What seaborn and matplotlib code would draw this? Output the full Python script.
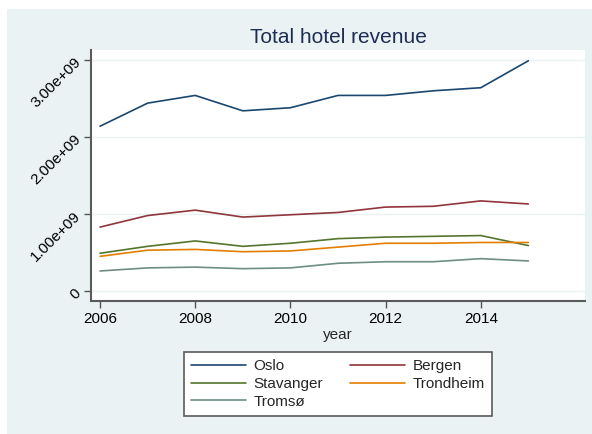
import matplotlib
matplotlib.use("Agg")
import matplotlib.pyplot as plt
import matplotlib.patches as mpatches
import seaborn as sns
import numpy as np
import pandas as pd

# hotel revenue per city (NOK)
years = [2006, 2007, 2008, 2009, 2010, 2011, 2012, 2013, 2014, 2015]
oslo = [2.14e9, 2.44e9, 2.54e9, 2.34e9, 2.38e9, 2.54e9, 2.54e9, 2.60e9, 2.64e9, 2.99e9]
bergen = [0.83e9, 0.98e9, 1.05e9, 0.96e9, 0.99e9, 1.02e9, 1.09e9, 1.10e9, 1.17e9, 1.13e9]
stavanger = [0.49e9, 0.58e9, 0.65e9, 0.58e9, 0.62e9, 0.68e9, 0.70e9, 0.71e9, 0.72e9, 0.59e9]
trondheim = [0.45e9, 0.53e9, 0.54e9, 0.51e9, 0.52e9, 0.57e9, 0.62e9, 0.62e9, 0.63e9, 0.63e9]
tromso = [0.26e9, 0.30e9, 0.31e9, 0.29e9, 0.30e9, 0.36e9, 0.38e9, 0.38e9, 0.42e9, 0.39e9]

cities = ["Oslo", "Bergen", "Stavanger", "Trondheim", "Tromsø"]
colors = ["#1a476f", "#90353b", "#55752f", "#e37e00", "#6e8e84"]
xticks = [2006, 2008, 2010, 2012, 2014]
yticks = [0, 1e9, 2e9, 3e9]
ylabels = ["0", "1.00e+09", "2.00e+09", "3.00e+09"]

frames = []
for name, vals in zip(cities, [oslo, bergen, stavanger, trondheim, tromso]):
    frames.append(pd.DataFrame({"year": years, "revenue": vals, "city": name}))
df = pd.concat(frames, ignore_index=True)

sns.set_style("white")
plt.rcParams["font.family"] = ["Liberation Sans", "DejaVu Sans"]

fig = plt.figure(figsize=(5.92, 4.34), dpi=100)
fig.patch.set_facecolor("white")
# stata-ish graph region background
fig.patches.append(mpatches.Rectangle((7 / 592, 0), 1, 1 - 9 / 434,
                                      transform=fig.transFigure,
                                      facecolor="#eaf2f3", edgecolor="none", zorder=-5))

ax = fig.add_axes([91 / 592, 1 - 301 / 434, 494 / 592, 251 / 434])
ax.set_facecolor("white")

sns.lineplot(data=df, x="year", y="revenue", hue="city", hue_order=cities,
             palette=colors, linewidth=1.2, ax=ax, legend=False)

for yv in yticks:
    ax.axhline(yv, color="#eaf2f3", linewidth=1, zorder=0)

ax.set_xlim(2005.81, 2016.19)
ax.set_ylim(-0.13e9, 3.13e9)
ax.set_xticks(xticks)
ax.set_yticks(yticks)
ax.set_yticklabels(ylabels, rotation=45, ha="right", va="center", rotation_mode="anchor")
ax.tick_params(axis="both", direction="out", length=5, width=1, color="#555555",
               labelsize=11, labelcolor="black", pad=3, bottom=True, left=True)
ax.tick_params(axis="y", pad=4)

for s in ["top", "right"]:
    ax.spines[s].set_visible(False)
for s in ["left", "bottom"]:
    ax.spines[s].set_color("#5a5a5a")
    ax.spines[s].set_linewidth(1.5)

ax.set_xlabel("year", fontsize=11, labelpad=1)
ax.set_ylabel("")
ax.set_title("Total hotel revenue", fontsize=15, color="#1e2d53", pad=5)

# legend filled column-wise, so reorder to get row-wise Stata layout
order = [0, 2, 4, 1, 3]
handles = [plt.Line2D([], [], color=colors[i], linewidth=1.2) for i in order]
labels = [cities[i] for i in order]
leg = fig.legend(handles, labels, ncol=2, loc="center",
                 bbox_to_anchor=(338 / 592, 1 - 384 / 434), fontsize=11,
                 frameon=True, fancybox=False, framealpha=1, handlelength=3.6,
                 columnspacing=1.8, handletextpad=0.5, labelspacing=0.25,
                 borderpad=0.45)
leg.get_frame().set_edgecolor("#5a5a5a")
leg.get_frame().set_linewidth(1.2)
leg.get_frame().set_facecolor("white")

fig.savefig("out.png", dpi=100)
